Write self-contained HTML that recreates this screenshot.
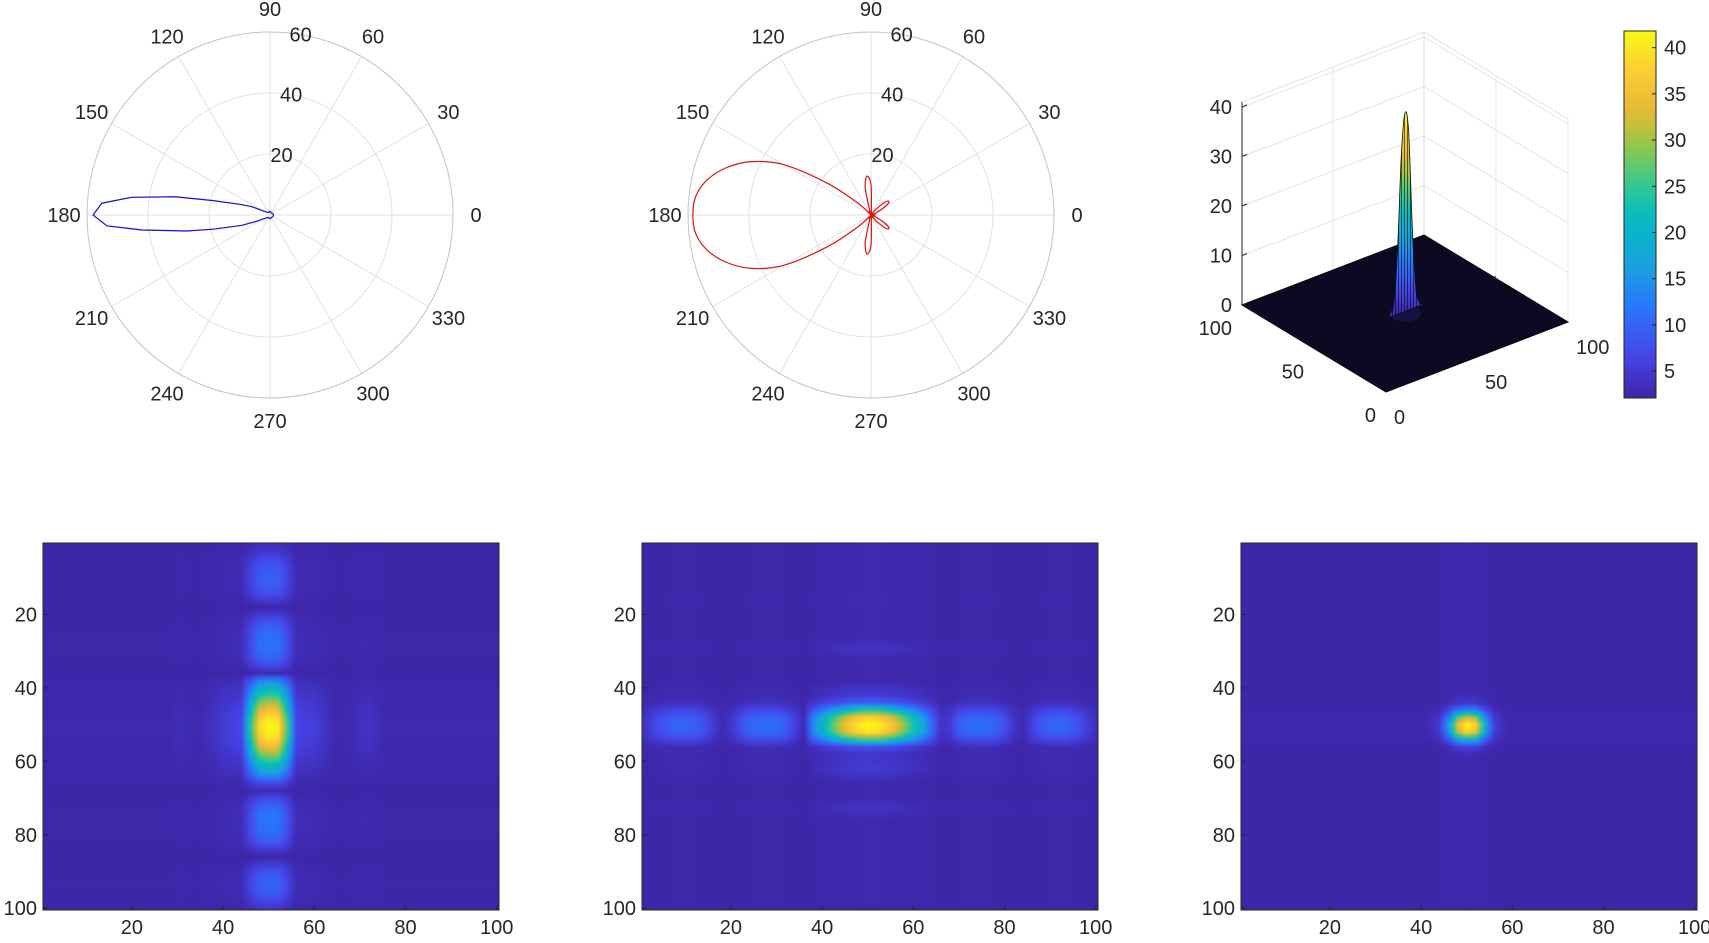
<!DOCTYPE html>
<html><head><meta charset="utf-8"><style>
body{margin:0;background:#fff;width:1709px;height:943px;overflow:hidden;position:relative;font-family:"Liberation Sans",sans-serif}
canvas{position:absolute;width:456px;height:367px;top:543px}
svg{position:absolute;left:0;top:0}
text{font-family:"Liberation Sans",sans-serif;font-size:20px;fill:#262626}
</style></head><body>
<canvas id="hm1" width="100" height="100" style="left:43px"></canvas>
<canvas id="hm2" width="100" height="100" style="left:642px"></canvas>
<canvas id="hm3" width="100" height="100" style="left:1241px"></canvas>
<svg id="fig" width="1709" height="943" viewBox="0 0 1709 943">
<defs>
<linearGradient id="cbgrad" x1="0" y1="1" x2="0" y2="0"></linearGradient>
<linearGradient id="spikegrad" gradientUnits="userSpaceOnUse" x1="0" y1="313" x2="0" y2="110"></linearGradient>
<pattern id="stripes" width="3" height="4" patternUnits="userSpaceOnUse"><rect x="0" y="0" width="1" height="4" fill="#000" opacity="0.55"/></pattern>
</defs>
</svg>
<script>
// ---- polar 1 data (blue) ----
const polar1Theta=[0,30,60,90,120,140,150,155.6,160,165.8,169.1,172.7,176,180,183.8,186.7,190.9,194,200,205,210,220,240,270,300,330,360];
const polar1R=[1.2,1,0.8,1.2,1,1.5,3,6.6,10,19.2,31.7,45.7,55.3,58,53.6,42.2,27.7,19.2,10,5,2.5,1.5,1,1.2,1,1,1.2];
// ---- polar 2 data (red) ----
const polar2Theta=[0,6,12,18,24,30,36,42,48,54,60,66,72,78,84,90,96,102,108,114,120,126,132,138,144,150,156,162,168,174,180,186,192,198,204,210,216,222,228,234,240,246,252,258,264,270,276,282,288,294,300,306,312,318,324,330,336,342,348,354,360];
const polar2R=[1.5,1,0.4,0.4,2,5,7.3,6.5,3,0.5,0.5,0.8,0.5,0.3,1,10,12.8,9,1,0.5,1.2,0.6,0.5,6,17.8,33,43,50,55,57.8,58.4,57.8,55,50,43,33,17.8,6,0.5,0.6,1.2,0.5,1,9,12.8,10,1,0.3,0.5,0.8,0.5,0.5,3,6.5,7.3,5,2,0.4,0.4,1,1.5];
const polarRTicks=[20,40,60];
const polarThetaTicks=[0,30,60,90,120,150,180,210,240,270,300,330];
// ---- heatmap profiles (sampled every 2 rows/cols, 0..100) ----
const map1Rows=[0.03,0.05,0.1,0.15,0.18,0.19,0.18,0.15,0.08,0.0,0.08,0.16,0.21,0.23,0.24,0.23,0.2,0.12,0.02,0.3,0.45,0.58,0.72,0.84,0.94,1.0,0.99,0.93,0.83,0.7,0.56,0.43,0.3,0.12,0.02,0.12,0.2,0.24,0.25,0.24,0.22,0.17,0.08,0.0,0.08,0.15,0.19,0.2,0.17,0.12,0.06];
const map1Cols=[0.01,0.01,0.01,0.01,0.01,0.01,0.01,0.01,0.01,0.01,0.01,0.01,0.01,0.01,0.01,0.03,0.02,0.01,0.03,0.05,0.08,0.1,0.12,0.55,0.92,1.0,0.97,0.6,0.12,0.1,0.09,0.06,0.02,0.01,0.02,0.04,0.05,0.03,0.01,0.01,0.01,0.01,0.01,0.01,0.01,0.01,0.01,0.01,0.01,0.01,0.01];
const map2Rows=[0.01,0.01,0.01,0.01,0.01,0.01,0.01,0.01,0.02,0.01,0.01,0.01,0.01,0.01,0.04,0.05,0.01,0.01,0.01,0.01,0.06,0.08,0.2,0.55,0.9,1.0,0.95,0.6,0.15,0.06,0.07,0.08,0.05,0.01,0.01,0.01,0.05,0.04,0.01,0.01,0.01,0.01,0.01,0.01,0.01,0.01,0.01,0.01,0.01,0.01,0.01];
const map2Cols=[0.03,0.08,0.14,0.18,0.2,0.2,0.19,0.15,0.08,0.02,0.06,0.14,0.2,0.22,0.23,0.22,0.18,0.1,0.02,0.3,0.45,0.6,0.75,0.88,0.96,1.0,0.98,0.92,0.82,0.68,0.54,0.4,0.22,0.05,0.08,0.18,0.22,0.23,0.22,0.2,0.14,0.06,0.02,0.1,0.17,0.2,0.21,0.19,0.15,0.09,0.04];
const map3Rows=[0.01,0.01,0.01,0.01,0.01,0.01,0.01,0.01,0.01,0.01,0.01,0.01,0.01,0.01,0.01,0.01,0.01,0.01,0.01,0.01,0.01,0.03,0.06,0.3,0.75,1.0,0.9,0.45,0.1,0.03,0.01,0.01,0.01,0.01,0.01,0.01,0.01,0.01,0.01,0.01,0.01,0.01,0.01,0.01,0.01,0.01,0.01,0.01,0.01,0.01,0.01];
const map3Cols=[0.01,0.01,0.01,0.01,0.01,0.01,0.01,0.01,0.01,0.01,0.01,0.01,0.01,0.01,0.01,0.01,0.01,0.01,0.01,0.01,0.01,0.03,0.08,0.35,0.8,1.0,0.9,0.42,0.1,0.03,0.01,0.01,0.01,0.01,0.01,0.01,0.01,0.01,0.01,0.01,0.01,0.01,0.01,0.01,0.01,0.01,0.01,0.01,0.01,0.01,0.01];
const heatTicks=[20,40,60,80,100];
// ---- 3D surface / colorbar ----
const surfPeakZ=40.5;
const zTicks=[0,10,20,30,40];
const xyTicks=[0,50,100];
const cbTicks=[5,10,15,20,25,30,35,40];
const cbRange=[2.1,41.8];

const NS='http://www.w3.org/2000/svg';
const svg=document.getElementById('fig');
function mk(tag,attrs,parent){const e=document.createElementNS(NS,tag);for(const k in attrs)e.setAttribute(k,attrs[k]);(parent||svg).appendChild(e);return e;}
const stops=[[0,62,38,168],[0.12,70,70,235],[0.25,40,120,250],[0.37,25,165,220],[0.48,0,185,195],[0.58,50,200,150],[0.68,140,200,75],[0.78,230,185,50],[0.88,252,200,55],[1,249,250,20]];
function parula(v){v=Math.max(0,Math.min(1,v));for(let i=1;i<stops.length;i++){if(v<=stops[i][0]){const a=stops[i-1],b=stops[i],t=(v-a[0])/(b[0]-a[0]);return [0,1,2].map(k=>Math.round(a[k+1]+(b[k+1]-a[k+1])*t));}}return stops[stops.length-1].slice(1);}
function prof(arr,i){const step=100/(arr.length-1);const p=i/step;const k=Math.min(arr.length-2,Math.floor(p));const t=p-k;return arr[k]*(1-t)+arr[k+1]*t;}

// ---- heatmaps ----
function drawHeat(id,rows,cols,left,name){
  const cv=document.getElementById(id),ctx=cv.getContext('2d'),img=ctx.createImageData(100,100);
  for(let r=0;r<100;r++)for(let c=0;c<100;c++){const v=prof(rows,r+1)*prof(cols,c+1);const col=parula(v);const o=(r*100+c)*4;img.data[o]=col[0];img.data[o+1]=col[1];img.data[o+2]=col[2];img.data[o+3]=255;}
  ctx.putImageData(img,0,0);
  const g=mk('g',{});
  
  
  const box=mk('rect',{x:left,y:543,width:456,height:367,fill:'none',stroke:'#262626','stroke-width':1},g);
  
  
  const xs=c=>left+(c-0.5)/100*456, ys=r=>543+(r-0.5)/100*367;
  heatTicks.forEach(t=>{
    const tx=mk('text',{x:xs(t),y:934,'text-anchor':'middle'},g);tx.textContent=t;
    
    
    const ty=mk('text',{x:left-6,y:ys(t)+7,'text-anchor':'end'},g);ty.textContent=t;
    
    
    mk('line',{x1:xs(t),x2:xs(t),y1:910,y2:905,stroke:'#262626'},g);
    mk('line',{x1:left,x2:left+5,y1:ys(t),y2:ys(t),stroke:'#262626'},g);
  });
}
drawHeat('hm1',map1Rows,map1Cols,43,'heatmap-1');
drawHeat('hm2',map2Rows,map2Cols,642,'heatmap-2');
drawHeat('hm3',map3Rows,map3Cols,1241,'heatmap-3');

// ---- polar plots ----
function catmull(pts){let d='M'+pts[0][0]+','+pts[0][1];for(let i=0;i<pts.length-1;i++){const p0=pts[Math.max(0,i-1)],p1=pts[i],p2=pts[i+1],p3=pts[Math.min(pts.length-1,i+2)];d+=' C'+(p1[0]+(p2[0]-p0[0])/6)+','+(p1[1]+(p2[1]-p0[1])/6)+' '+(p2[0]-(p3[0]-p1[0])/6)+','+(p2[1]-(p3[1]-p1[1])/6)+' '+p2[0]+','+p2[1];}return d;}
function drawPolar(cx,cy,theta,rr,color,name,smooth){
  const R=183,rmax=60;
  const g=mk('g',{});
  
  
  polarThetaTicks.forEach(a=>{const rad=a*Math.PI/180;
    mk('line',{x1:cx,y1:cy,x2:cx+R*Math.cos(rad),y2:cy-R*Math.sin(rad),stroke:'#e2e2e2','stroke-width':1},g);
    const t=mk('text',{x:cx+206*Math.cos(rad),y:cy-206*Math.sin(rad)+7,'text-anchor':'middle'},g);t.textContent=a;
    
    
  });
  polarRTicks.forEach(v=>{const r=v/rmax*R;
    mk('circle',{cx:cx,cy:cy,r:r,fill:'none',stroke:v===rmax?'#c4c4c4':'#e2e2e2','stroke-width':1},g);
    const rad=81*Math.PI/180;
    const t=mk('text',{x:cx+r*Math.cos(rad)+2,y:cy-r*Math.sin(rad)+7,'text-anchor':'middle'},g);t.textContent=v;
    
    
  });
  const pts=theta.map((a,i)=>{const rad=a*Math.PI/180,r=rr[i]/rmax*R;return [+(cx+r*Math.cos(rad)).toFixed(2),+(cy-r*Math.sin(rad)).toFixed(2)];});
  const d=smooth?catmull(pts):'M'+pts.map(p=>p.join(',')).join(' L');
  const p=mk('path',{d:d,fill:'none',stroke:color,'stroke-width':1.2},g);
  
  
}
drawPolar(270,215,polar1Theta,polar1R,'#1010d0','polar-plot-1',false);
drawPolar(871,215,polar2Theta,polar2R,'#e01010','polar-plot-2',true);

// ---- 3D surface ----
const F=[1386,392],RX=[182,-70],RY=[-144,-87],ZS=4.95;
function P(x,y,z){return [F[0]+x/100*RX[0]+y/100*RY[0],F[1]+x/100*RX[1]+y/100*RY[1]-z*ZS];}
const g3=mk('g',{});


const zTop=41;
function ln(a,b,st,w,parent){return mk('line',{x1:a[0],y1:a[1],x2:b[0],y2:b[1],stroke:st,'stroke-width':w||1},parent||g3);}
zTicks.concat([zTop]).forEach(z=>{ln(P(0,100,z),P(100,100,z),'#e4e4e4');ln(P(100,100,z),P(100,0,z),'#e4e4e4');});
ln(P(50,100,0),P(50,100,zTop),'#e4e4e4');ln(P(100,50,0),P(100,50,zTop),'#e4e4e4');
ln(P(100,100,0),P(100,100,zTop),'#dcdcdc');ln(P(100,0,0),P(100,0,zTop),'#e4e4e4');
const fl=[P(0,0,0),P(100,0,0),P(100,100,0),P(0,100,0)];
const floor=mk('polygon',{points:fl.map(p=>p.join(',')).join(' '),fill:'#0c0a22',stroke:'#05040f','stroke-width':1},g3);


const bc=P(50,50,0);
const glow=mk('ellipse',{cx:bc[0],cy:bc[1],rx:16,ry:8,fill:'#2a2280',opacity:0.35},g3);


const sg=document.getElementById('spikegrad');
const topY=P(50,50,surfPeakZ)[1];sg.setAttribute('y1',bc[1]);sg.setAttribute('y2',topY);
for(let i=0;i<=10;i++){const c=parula(i/10);mk('stop',{offset:i/10,'stop-color':'rgb('+c.join(',')+')'},sg);}
const sil=[];map3Cols.forEach((v,i)=>{const c=i*100/(map3Cols.length-1);sil.push(P(c,50,surfPeakZ*v));});
const spikeD=catmull(sil.map(p=>[+p[0].toFixed(2),+p[1].toFixed(2)]))+' Z';
const spike=mk('path',{d:spikeD,fill:'url(#spikegrad)',stroke:'#0a0a20','stroke-width':0.8},g3);


const mesh=mk('path',{d:spikeD,fill:'url(#stripes)',stroke:'none'},g3);


ln(P(0,100,0),P(0,100,zTop),'#262626',1);
zTicks.forEach(z=>{const p=P(0,100,z);ln(p,[p[0]+5,p[1]-2],'#262626');
  const t=mk('text',{x:p[0]-10,y:p[1]+7,'text-anchor':'end'},g3);t.textContent=z;
  
  });
xyTicks.forEach(v=>{const p=P(0,v,0);const t=mk('text',{x:p[0]-10,y:p[1]+30,'text-anchor':'end'},g3);t.textContent=v;
  
  
  const q=P(v,0,0);const t2=mk('text',{x:q[0]+8,y:q[1]+32,'text-anchor':'start'},g3);t2.textContent=v;
  
  });
// colorbar
const cg=document.getElementById('cbgrad');
for(let i=0;i<=20;i++){const c=parula(i/20);mk('stop',{offset:i/20,'stop-color':'rgb('+c.join(',')+')'},cg);}
const cbx=1624,cbw=32,cbt=31,cbb=398;
const cb=mk('rect',{x:cbx,y:cbt,width:cbw,height:cbb-cbt,fill:'url(#cbgrad)',stroke:'#262626','stroke-width':1});


cbTicks.forEach(v=>{const y=cbb-(v-cbRange[0])/(cbRange[1]-cbRange[0])*(cbb-cbt);
  mk('line',{x1:cbx+cbw-4,x2:cbx+cbw,y1:y,y2:y,stroke:'#262626'});
  const t=mk('text',{x:cbx+cbw+8,y:y+7,'font-size':'19'});t.textContent=v;
  
  });
</script>
</body></html>
